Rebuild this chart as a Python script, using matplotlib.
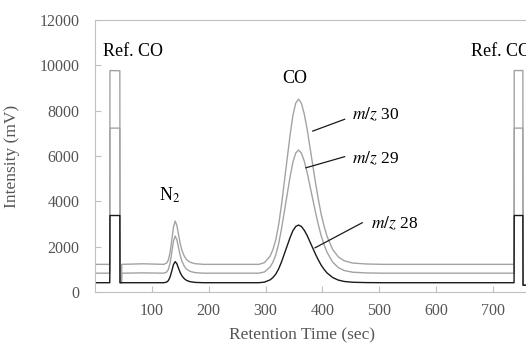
import matplotlib
matplotlib.use("Agg")
import matplotlib.pyplot as plt

plt.rcParams.update({"font.family": "Liberation Serif", "mathtext.fontset": "stix"})

GRAY, BLACK, SPINE, TXT = "#a3a3a3", "#1a1a1a", "#c0c0c0", "#555555"

# retention time grid (sec): ref. CO pulse, N2 peak, CO peak, ref. CO pulse
t_ref1 = [0, 26, 26.3, 43.7, 44, 46.7, 47, 84]
t_n2 = [121, 126, 129, 132, 135, 138, 141, 144, 147, 150, 153, 157, 161, 167, 176, 191]
t_co = [288, 298, 308, 313, 318, 323, 328, 333, 338, 343, 348, 353, 358, 363, 368,
        373, 378, 383, 388, 393, 398, 403, 408, 418, 428, 438, 453, 478, 508]
t_ref2 = [737, 737.3, 752.5, 752.8, 758]

# m/z 30 (mV)
mz30_ref1 = [1220, 1220, 9770, 9760, 410, 410, 1220, 1245]
mz30_n2 = [1220, 1277, 1411, 1736, 2271, 2863, 3130, 2939, 2519, 2118, 1831, 1583,
           1430, 1316, 1249, 1220]
mz30_co = [1220, 1293, 1585, 1876, 2314, 2970, 3844, 4865, 5886, 6906, 7781, 8328,
           8510, 8328, 7854, 7198, 6396, 5594, 4792, 4063, 3407, 2897, 2459, 1876,
           1548, 1380, 1278, 1235, 1220]
mz30_ref2 = [1220, 9770, 9770, 300, 300]

# m/z 29
mz29_ref1 = [830, 830, 7230, 7230, 410, 410, 830, 845]
mz29_n2 = [830, 879, 994, 1273, 1732, 2240, 2470, 2306, 1945, 1601, 1355, 1142,
           1010, 912, 855, 830]
mz29_co = [830, 884, 1102, 1319, 1645, 2134, 2786, 3547, 4308, 5069, 5721, 6128,
           6264, 6128, 5775, 5286, 4688, 4090, 3493, 2949, 2460, 2080, 1754, 1319,
           1075, 950, 873, 841, 830]
mz29_ref2 = [830, 7230, 7230, 300, 300]

# m/z 28
mz28_ref1 = [410, 410, 3375, 3375, 410, 410, 410, 410]
mz28_n2 = [410, 438, 503, 661, 922, 1210, 1340, 1247, 1042, 847, 708, 587, 512, 457,
           424, 410]
mz28_co = [410, 435, 537, 639, 792, 1021, 1326, 1683, 2039, 2395, 2701, 2891, 2955,
           2891, 2726, 2497, 2217, 1937, 1657, 1403, 1174, 995, 843, 639, 525, 466,
           430, 415, 410]
mz28_ref2 = [410, 3375, 3375, 300, 300]

t_all = t_ref1 + t_n2 + t_co + t_ref2
traces = [
    (mz30_ref1 + mz30_n2 + mz30_co + mz30_ref2, GRAY),
    (mz29_ref1 + mz29_n2 + mz29_co + mz29_ref2, GRAY),
    (mz28_ref1 + mz28_n2 + mz28_co + mz28_ref2, BLACK),
]

fig = plt.figure(figsize=(5.26, 3.45), dpi=100)
ax = fig.add_axes([0.1806, 0.1536, 0.8194, 0.7884])
for y, c in traces:
    ax.plot(t_all, y, color=c, lw=1.0)

ax.set_xlim(0, 758)
ax.set_ylim(0, 12000)
ax.set_xticks(range(100, 701, 100))
ax.set_yticks(range(0, 12001, 2000))
ax.tick_params(direction="in", length=4, color=SPINE, labelcolor=TXT, labelsize=11.5)
ax.tick_params(axis="y", pad=11)
ax.tick_params(axis="x", pad=8)
for s in ("left", "bottom", "top"):
    ax.spines[s].set_color(SPINE)
ax.spines["right"].set_visible(False)

ax.set_xlabel("Retention Time (sec)", color=TXT, fontsize=12.5)
ax.xaxis.set_label_coords(0.481, -0.13)
ax.set_ylabel("Intensity (mV)", color=TXT, fontsize=12.5)
ax.yaxis.set_label_coords(-0.175, 0.5)

# right-hand label runs off the figure edge, as in the original
ax.text(14, 10600, "Ref. CO", fontsize=13, va="center")
ax.text(661, 10600, "Ref. CO", fontsize=13, va="center", clip_on=False)
ax.text(351, 9440, "CO", fontsize=13, ha="center", va="center")
ax.text(131, 4280, r"N$_2$", fontsize=13, ha="center", va="center")

labels = [("30", (383, 7100), (439, 7620), (452, 7810)),
          ("29", (371, 5480), (439, 5970), (452, 5870)),
          ("28", (387, 1950), (470, 3057), (485, 3000))]
for num, p0, p1, pt in labels:
    ax.plot([p0[0], p1[0]], [p0[1], p1[1]], color=BLACK, lw=0.9)
    ax.text(pt[0], pt[1], rf"$m/z$ {num}", fontsize=12.5, va="center")

fig.savefig("out.png", dpi=100)
